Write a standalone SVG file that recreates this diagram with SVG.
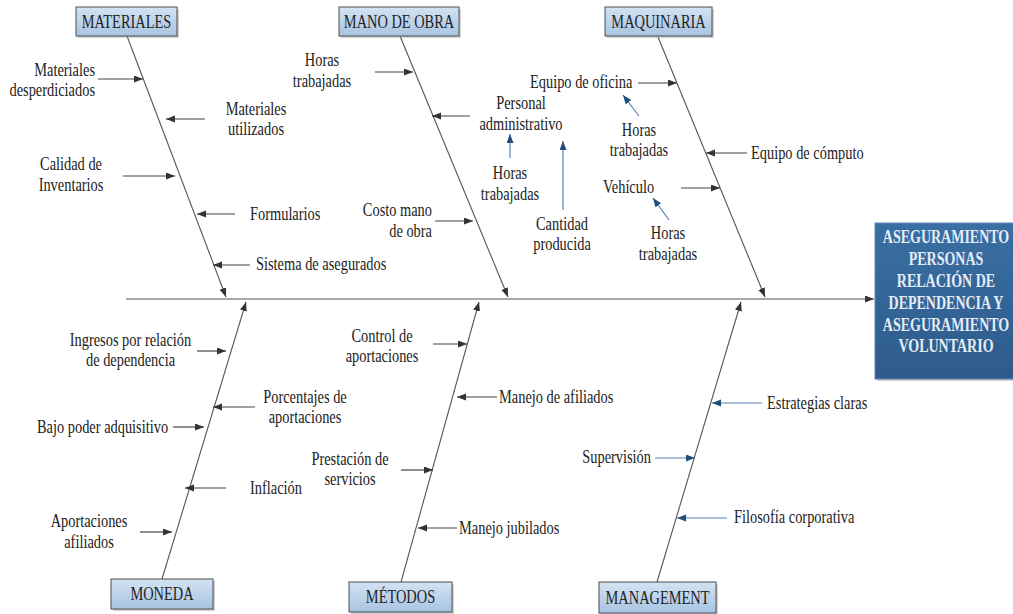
<svg xmlns="http://www.w3.org/2000/svg" width="1013" height="614" viewBox="0 0 1013 614">
  <style>
    .t { font-family: "Liberation Serif", "Times New Roman", serif; font-size: 14.4px; fill: #222; }
    .m { text-anchor: middle; }
    .e { text-anchor: end; }
    .cat { fill: url(#catFill); stroke: #4d4d4d; stroke-width: 1; }
    .shadow { fill: #9a9a9a; opacity: 0.45; }
    .bone { stroke: #555; stroke-width: 1.1; fill: none; }
    .dark { stroke: #454545; stroke-width: 1.2; fill: none; marker-end: url(#ahDark); }
    .blue { stroke: #5a80b4; stroke-width: 1.2; fill: none; marker-end: url(#ahBlue); }
    .head { font-family: "Liberation Serif", "Times New Roman", serif; font-size: 14px; font-weight: bold; fill: #e4ecf5; text-anchor: middle; }
  </style>
  <defs>
    <linearGradient id="catFill" x1="0" y1="0" x2="0" y2="1">
      <stop offset="0" stop-color="#d3e3f3"/>
      <stop offset="1" stop-color="#a8c4e2"/>
    </linearGradient>
    <linearGradient id="headFill" x1="0" y1="0" x2="0" y2="1">
      <stop offset="0" stop-color="#3a6fa3"/>
      <stop offset="1" stop-color="#2d5b8a"/>
    </linearGradient>
    <marker id="ahDark" markerUnits="userSpaceOnUse" markerWidth="10" markerHeight="8" refX="9" refY="3.5" orient="auto">
      <path d="M0,0 L9,3.5 L0,7 z" fill="#333"/>
    </marker>
    <marker id="ahBlue" markerUnits="userSpaceOnUse" markerWidth="10" markerHeight="8" refX="9" refY="3.5" orient="auto">
      <path d="M0,0 L9,3.5 L0,7 z" fill="#1f4e79"/>
    </marker>
  </defs>

  <rect width="1013" height="614" fill="#fff"/>

  <!-- spine, bones and cause arrows -->
  <g id="connectors">
    <line class="bone" x1="126" y1="299" x2="874" y2="299" marker-end="url(#ahDark)"/>
    <line class="bone" x1="127" y1="36" x2="226" y2="297" marker-end="url(#ahDark)"/>
    <line class="bone" x1="400" y1="36" x2="508" y2="297" marker-end="url(#ahDark)"/>
    <line class="bone" x1="658" y1="37" x2="765" y2="297" marker-end="url(#ahDark)"/>
    <line class="bone" x1="162" y1="579" x2="246" y2="302" marker-end="url(#ahDark)"/>
    <line class="bone" x1="401" y1="582" x2="479" y2="302" marker-end="url(#ahDark)"/>
    <line class="bone" x1="657" y1="582" x2="741" y2="302" marker-end="url(#ahDark)"/>

    <line class="dark" x1="98" y1="79" x2="143" y2="79"/>
    <line class="dark" x1="205" y1="119" x2="166" y2="119"/>
    <line class="dark" x1="123" y1="176" x2="175" y2="176"/>
    <line class="dark" x1="235" y1="214" x2="197" y2="214"/>
    <line class="dark" x1="250" y1="265" x2="213" y2="265"/>

    <line class="dark" x1="375" y1="72" x2="413" y2="72"/>
    <line class="dark" x1="470" y1="116" x2="432" y2="116"/>
    <line class="dark" x1="435" y1="221" x2="473" y2="221"/>

    <line class="dark" x1="638" y1="83" x2="677" y2="83"/>
    <line class="dark" x1="747" y1="153" x2="706" y2="153"/>
    <line class="dark" x1="681" y1="188" x2="720" y2="188"/>

    <line class="dark" x1="197" y1="351" x2="226" y2="351"/>
    <line class="dark" x1="255" y1="407" x2="213" y2="407"/>
    <line class="dark" x1="173" y1="427" x2="204" y2="427"/>
    <line class="dark" x1="226" y1="488" x2="185" y2="488"/>
    <line class="dark" x1="140" y1="532" x2="172" y2="532"/>

    <line class="dark" x1="433" y1="344" x2="467" y2="344"/>
    <line class="dark" x1="497" y1="397" x2="457" y2="397"/>
    <line class="dark" x1="401" y1="470" x2="433" y2="470"/>
    <line class="dark" x1="457" y1="528" x2="418" y2="528"/>

    <line class="blue" x1="510" y1="158" x2="510" y2="134"/>
    <line class="blue" x1="563" y1="210" x2="563" y2="141"/>
    <line class="blue" x1="639" y1="116" x2="623" y2="95"/>
    <line class="blue" x1="669" y1="220" x2="653" y2="198"/>

    <line class="blue" x1="762" y1="403" x2="712" y2="403"/>
    <line class="blue" x1="655" y1="458" x2="695" y2="458"/>
    <line class="blue" x1="727" y1="518" x2="677" y2="518"/>
  </g>

  <!-- category boxes -->
  <g id="materiales">
    <rect class="shadow" x="78" y="9" width="101" height="29"/>
    <rect class="cat" x="76" y="7" width="101" height="29"/>
    <text class="t m" transform="matrix(1 0 0 1.3 126.5 27.5)">MATERIALES</text>
  </g>
  <g id="mano-de-obra">
    <rect class="shadow" x="341" y="9" width="120" height="29"/>
    <rect class="cat" x="339" y="7" width="120" height="29"/>
    <text class="t m" transform="matrix(1 0 0 1.3 399 27.5)">MANO DE OBRA</text>
  </g>
  <g id="maquinaria">
    <rect class="shadow" x="607" y="9" width="107" height="29"/>
    <rect class="cat" x="605" y="7" width="107" height="29"/>
    <text class="t m" transform="matrix(1 0 0 1.3 658.5 27.5)">MAQUINARIA</text>
  </g>
  <g id="moneda">
    <rect class="shadow" x="113" y="581" width="102" height="30"/>
    <rect class="cat" x="111" y="579" width="102" height="30"/>
    <text class="t m" transform="matrix(1 0 0 1.3 162 600)">MONEDA</text>
  </g>
  <g id="metodos">
    <rect class="shadow" x="351" y="584" width="103" height="30"/>
    <rect class="cat" x="349" y="582" width="103" height="30"/>
    <text class="t m" transform="matrix(1 0 0 1.3 400.5 603)">MÉTODOS</text>
  </g>
  <g id="management">
    <rect class="shadow" x="601" y="584" width="117" height="31"/>
    <rect class="cat" x="599" y="582" width="117" height="31"/>
    <text class="t m" transform="matrix(1 0 0 1.3 657.5 603.5)">MANAGEMENT</text>
  </g>

  <!-- effect -->
  <g id="efecto">
    <rect x="877" y="225" width="142" height="156" fill="#9a9a9a" opacity="0.45"/>
    <rect x="875" y="223" width="142" height="156" fill="url(#headFill)" stroke="#5d86b3" stroke-width="1"/>
    <text class="head" transform="matrix(1 0 0 1.3 946 243)">ASEGURAMIENTO</text>
    <text class="head" transform="matrix(1 0 0 1.3 946 264.5)">PERSONAS</text>
    <text class="head" transform="matrix(1 0 0 1.3 946 286.5)">RELACIÓN DE</text>
    <text class="head" transform="matrix(1 0 0 1.3 946 308.5)">DEPENDENCIA Y</text>
    <text class="head" transform="matrix(1 0 0 1.3 946 330.5)">ASEGURAMIENTO</text>
    <text class="head" transform="matrix(1 0 0 1.3 946 351.5)">VOLUNTARIO</text>
  </g>

  <!-- causes: materiales -->
  <g id="c-materiales-desperdiciados"><text class="t e" transform="matrix(1 0 0 1.3 95 75.5)">Materiales<tspan x="0" dy="15.4">desperdiciados</tspan></text></g>
  <g id="c-materiales-utilizados"><text class="t m" transform="matrix(1 0 0 1.3 256 114.5)">Materiales<tspan x="0" dy="15.4">utilizados</tspan></text></g>
  <g id="c-calidad"><text class="t m" transform="matrix(1 0 0 1.3 71 170)">Calidad de<tspan x="0" dy="15.8">Inventarios</tspan></text></g>
  <g id="c-formularios"><text class="t" transform="matrix(1 0 0 1.3 250 220)">Formularios</text></g>
  <g id="c-sistema"><text class="t" transform="matrix(1 0 0 1.3 256 269.5)">Sistema de asegurados</text></g>

  <!-- causes: mano de obra -->
  <g id="c-horas-mo"><text class="t m" transform="matrix(1 0 0 1.3 322 65.5)">Horas<tspan x="0" dy="16.5">trabajadas</tspan></text></g>
  <g id="c-personal"><text class="t m" transform="matrix(1 0 0 1.3 521 108.5)">Personal<tspan x="0" dy="16.5">administrativo</tspan></text></g>
  <g id="c-horas-personal"><text class="t m" transform="matrix(1 0 0 1.3 510 178.5)">Horas<tspan x="0" dy="16.5">trabajadas</tspan></text></g>
  <g id="c-cantidad"><text class="t m" transform="matrix(1 0 0 1.3 562 229.5)">Cantidad<tspan x="0" dy="16">producida</tspan></text></g>
  <g id="c-costo"><text class="t e" transform="matrix(1 0 0 1.3 432 215.5)">Costo mano<tspan x="0" dy="16.5">de obra</tspan></text></g>

  <!-- causes: maquinaria -->
  <g id="c-equipo-oficina"><text class="t" transform="matrix(1 0 0 1.3 530 88)">Equipo de oficina</text></g>
  <g id="c-horas-oficina"><text class="t m" transform="matrix(1 0 0 1.3 639 135.5)">Horas<tspan x="0" dy="16">trabajadas</tspan></text></g>
  <g id="c-equipo-computo"><text class="t" transform="matrix(1 0 0 1.3 751 158.5)">Equipo de cómputo</text></g>
  <g id="c-vehiculo"><text class="t" transform="matrix(1 0 0 1.3 603 192.5)">Vehículo</text></g>
  <g id="c-horas-vehiculo"><text class="t m" transform="matrix(1 0 0 1.3 668 238.5)">Horas<tspan x="0" dy="16.5">trabajadas</tspan></text></g>

  <!-- causes: moneda -->
  <g id="c-ingresos"><text class="t m" transform="matrix(1 0 0 1.3 130.5 345.5)">Ingresos por relación<tspan x="0" dy="16">de dependencia</tspan></text></g>
  <g id="c-porcentajes"><text class="t m" transform="matrix(1 0 0 1.3 305 402.5)">Porcentajes de<tspan x="0" dy="16">aportaciones</tspan></text></g>
  <g id="c-bajo-poder"><text class="t" transform="matrix(1 0 0 1.3 37 432.5)">Bajo poder adquisitivo</text></g>
  <g id="c-inflacion"><text class="t" transform="matrix(1 0 0 1.3 250 493.5)">Inflación</text></g>
  <g id="c-aportaciones"><text class="t m" transform="matrix(1 0 0 1.3 89 526.5)">Aportaciones<tspan x="0" dy="16.5">afiliados</tspan></text></g>

  <!-- causes: metodos -->
  <g id="c-control"><text class="t m" transform="matrix(1 0 0 1.3 382 341.5)">Control de<tspan x="0" dy="15.8">aportaciones</tspan></text></g>
  <g id="c-manejo-afiliados"><text class="t" transform="matrix(1 0 0 1.3 499 402.5)">Manejo de afiliados</text></g>
  <g id="c-prestacion"><text class="t m" transform="matrix(1 0 0 1.3 350 464.5)">Prestación de<tspan x="0" dy="16">servicios</tspan></text></g>
  <g id="c-manejo-jubilados"><text class="t" transform="matrix(1 0 0 1.3 459 533.5)">Manejo jubilados</text></g>

  <!-- causes: management -->
  <g id="c-estrategias"><text class="t" transform="matrix(1 0 0 1.3 767 408.5)">Estrategias claras</text></g>
  <g id="c-supervision"><text class="t e" transform="matrix(1 0 0 1.3 651 462.5)">Supervisión</text></g>
  <g id="c-filosofia"><text class="t" transform="matrix(1 0 0 1.3 734 522.5)">Filosofía corporativa</text></g>
</svg>
